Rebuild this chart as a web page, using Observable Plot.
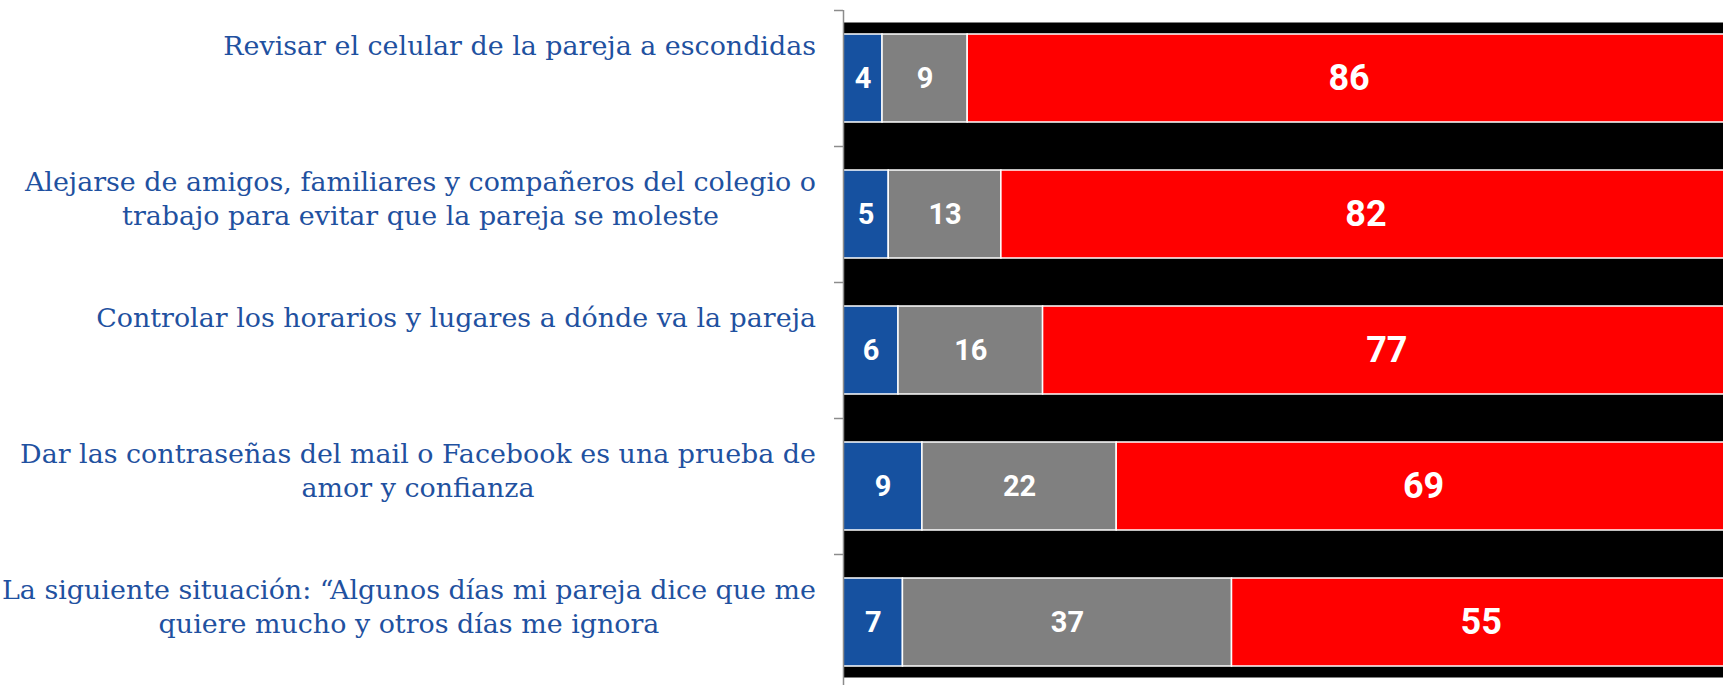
<!DOCTYPE html>
<html><head><meta charset="utf-8">
<script src="https://cdn.jsdelivr.net/npm/d3@7"></script>
<script src="https://cdn.jsdelivr.net/npm/@observablehq/plot@0.6"></script>
<style>html,body{margin:0;padding:0;background:#fff;overflow:hidden}</style>
</head><body><div id="chart"></div>
<script>
const categories = [
  "Revisar el celular de la pareja a escondidas",
  "Alejarse de amigos, familiares y compañeros del colegio o\ntrabajo para evitar que la pareja se moleste",
  "Controlar los horarios y lugares a dónde va la pareja",
  "Dar las contraseñas del mail o Facebook es una prueba de\namor y confianza",
  "La siguiente situación: “Algunos días mi pareja dice que me\nquiere mucho y otros días me ignora"
];
const seriesNames = ["Serie azul", "Serie gris", "Serie roja"];
const seriesColors = ["#1651a0", "#808080", "#ff0000"];
// segment lengths
const blueValues = [4.4, 5.1, 6.2, 8.9, 6.7];
const grayValues = [9.6, 12.7, 16.3, 21.9, 37.1];
const redValues  = [86.0, 82.2, 77.5, 69.2, 56.2];
// printed data labels
const blueLabels = [4, 5, 6, 9, 7];
const grayLabels = [9, 13, 16, 22, 37];
const redLabels  = [86, 82, 77, 69, 55];

const valueSets = [blueValues, grayValues, redValues];
const labelSets = [blueLabels, grayLabels, redLabels];
const data = [];
categories.forEach((c, i) => {
  seriesNames.forEach((s, j) => {
    data.push({cat: c, series: s, value: valueSets[j][i], label: String(labelSets[j][i]), big: j === 2});
  });
});

const chart = Plot.plot({
  width: 1723,
  height: 685,
  marginLeft: 843,
  marginRight: 0,
  marginTop: 22,
  marginBottom: 8,
  style: {overflow: "hidden", background: "white"},
  x: {domain: [0, 100], range: [843, 1730], axis: null},
  y: {domain: categories, range: [10, 690], padding: 0, axis: null},
  color: {domain: seriesNames, range: seriesColors},
  marks: [
    Plot.frame({fill: "black", stroke: null}),
    Plot.barX(data, Plot.stackX({
      y: "cat", x: "value", fill: "series",
      stroke: "white", strokeWidth: 1.5,
      insetTop: 24, insetBottom: 24
    })),
    Plot.text(data, Plot.stackX({
      y: "cat", x: "value", text: "label",
      fill: "white", fontWeight: "bold", fontFamily: "Roboto",
      fontSize: d => d.big ? 36 : 29
    })),
    Plot.ruleX([0], {stroke: "#8c8c8c", strokeWidth: 1.5, insetTop: -12, insetBottom: -8}),
    Plot.ruleY(categories, {y: d => d, x1: 0, x2: 0, dy: -68, insetLeft: -9, stroke: "#8c8c8c", strokeWidth: 1.5}),
    Plot.text(categories, {
      y: d => d, text: d => d, frameAnchor: "left",
      textAnchor: "middle", lineAnchor: "top", dy: -48, lineHeight: 1.27,
      fill: "#1f51a0", fontSize: 26.9, fontFamily: "DejaVu Serif"
    })
  ]
});
document.getElementById("chart").appendChild(chart);

// right-align each label block at x = 816 while keeping its lines centered
const flat = new Set(categories.map(c => c.replace("\n", "")));
const svgRect = chart.getBoundingClientRect();
chart.querySelectorAll("text").forEach(t => {
  if (!flat.has(t.textContent)) return;
  const r = t.getBoundingClientRect();
  const shift = 816 - (r.right - svgRect.left);
  const tr = t.getAttribute("transform") || "";
  t.setAttribute("transform", `translate(${shift},0) ${tr}`);
});
</script>
</body></html>
